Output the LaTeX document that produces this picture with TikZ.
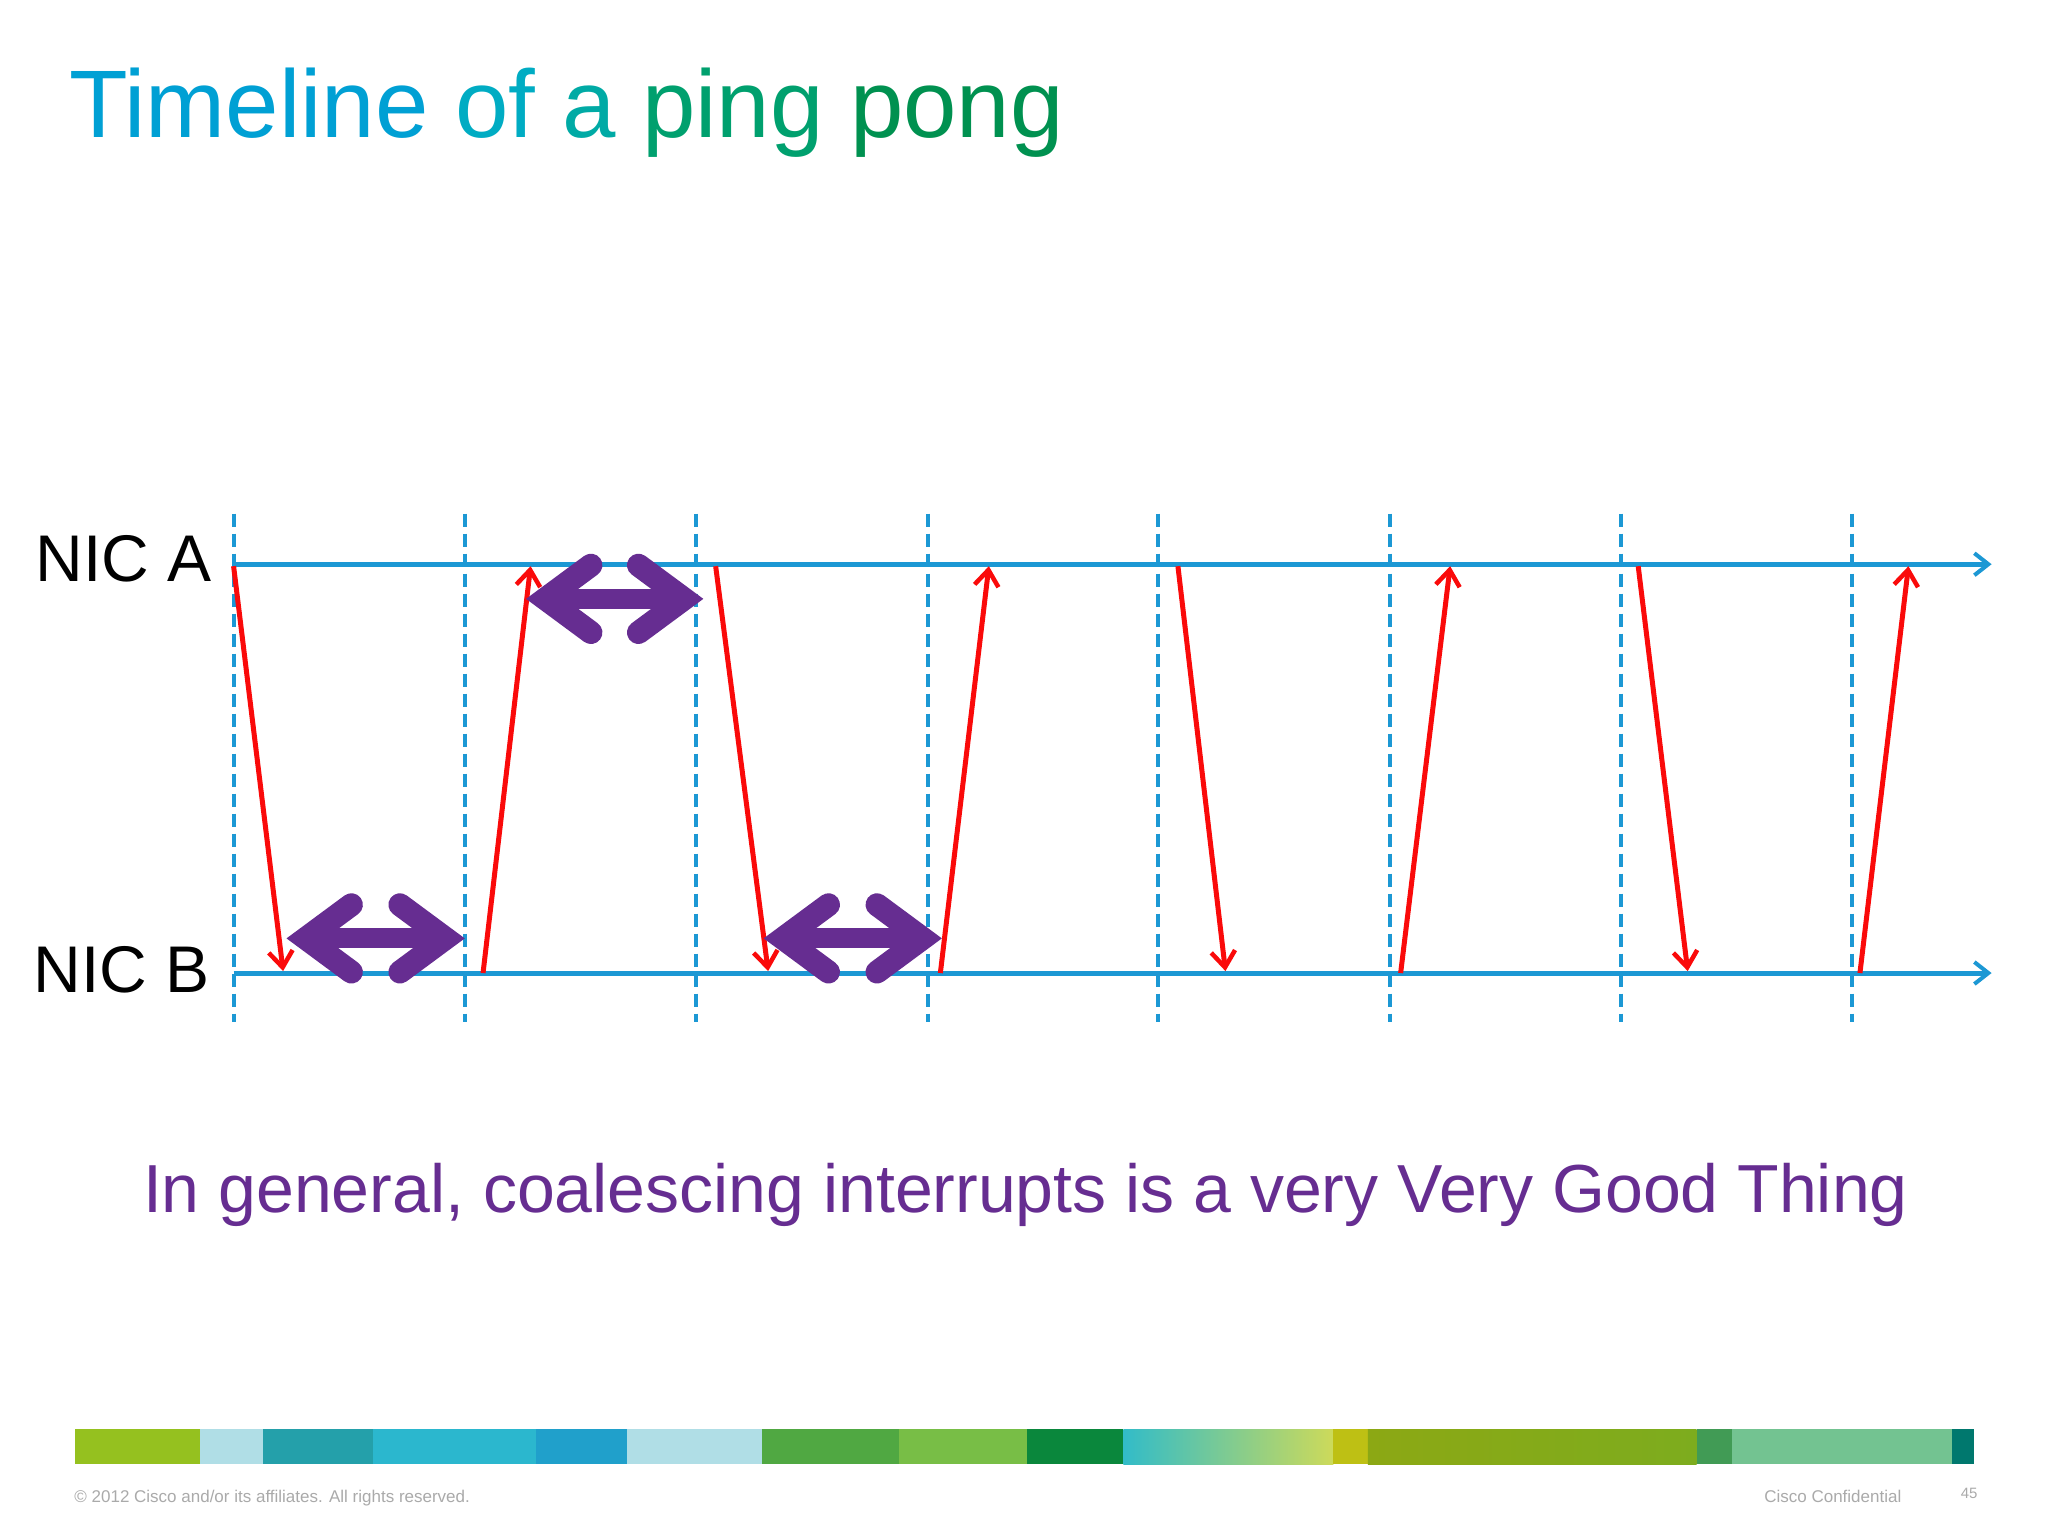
\documentclass[tikz,border=0pt]{standalone}
\usepackage{fontspec}
\setmainfont{Liberation Sans}
\usetikzlibrary{arrows.meta}
\definecolor{cblue}{RGB}{28,152,212}
\definecolor{cpurple}{RGB}{102,45,145}
\definecolor{cred}{RGB}{250,10,10}
\definecolor{cgray}{RGB}{170,170,170}
\tikzset{
 axis/.style={cblue,line width=5pt,-{Straight Barb[length=14pt,width=22pt,line width=4pt]}},
 tick/.style={cblue,line width=4pt,dash pattern=on 13pt off 7pt},
 msg/.style={cred,line width=5pt,-{Straight Barb[length=16pt,width=24pt,line width=4.5pt]}},
 lbl/.style={inner sep=0pt,anchor=base west},
}
\newcommand{\dblarrow}[3]{% x1 x2 y
 \draw[cpurple,line width=20pt] (#1+12,#3) -- (#2-12,#3);
 \draw[cpurple,line width=23pt,line cap=round,line join=miter] (#1+58,#3-34) -- (#1+12,#3) -- (#1+58,#3+34);
 \draw[cpurple,line width=23pt,line cap=round,line join=miter] (#2-58,#3-34) -- (#2-12,#3) -- (#2-58,#3+34);
}
\begin{document}
\begin{tikzpicture}[x=0.99pt,y=-0.99pt]
\useasboundingbox (0,0) rectangle (2069,1552);
\fill[white] (0,0) rectangle (2069,1552);
% title
\node[lbl] (title) at (70,139) {\fontsize{96}{100}\selectfont
 \color[RGB]{0,160,212}Timeline \color[RGB]{0,172,195}of \color[RGB]{0,170,165}a \color[RGB]{0,160,110}ping \color[RGB]{0,145,80}pong};
% labels
\node[lbl,anchor=base east] (nica) at (214,587) {\fontsize{66}{70}\selectfont NIC A};
\node[lbl,anchor=base east] (nicb) at (212,1003) {\fontsize{66}{70}\selectfont NIC B};
% dashed ticks
\foreach \i/\x in {1/236,2/470,3/703,4/937,5/1170,6/1404,7/1638,8/1871}{
 \coordinate (t\i) at (\x,519);
 \coordinate (b\i) at (\x,1032);
 \draw[tick] (t\i) -- (b\i);
}
% axes
\coordinate (as) at (236,570); \coordinate (ae) at (2012,570);
\coordinate (bs) at (236,983); \coordinate (be) at (2012,983);
\draw[axis] (as) -- (ae);
\draw[axis] (bs) -- (be);
% messages
\foreach \i/\xa/\xb in {1/236/286,2/723/776,3/1190/1238,4/1655/1705}{
 \coordinate (da\i) at (\xa,572); \coordinate (db\i) at (\xb,981);
 \draw[msg] (da\i) -- (db\i);
}
\foreach \i/\xb/\xa in {1/488/536,2/950/999,3/1415/1465,4/1879/1928}{
 \coordinate (ub\i) at (\xb,983); \coordinate (ua\i) at (\xa,572);
 \draw[msg] (ub\i) -- (ua\i);
}
% purple double arrows
\dblarrow{297}{462}{948}
\dblarrow{779}{944}{948}
\dblarrow{539}{703}{605}
% bottom text
\node[inner sep=0pt,anchor=base] (msgtext) at (1036,1225) {\fontsize{68}{70}\selectfont\color{cpurple}In general, coalescing interrupts is a very Very Good Thing};
% color bar
\def\yt{1444}\def\yb{1479}
\fill[color={rgb,255:red,149;green,193;blue,31}] (76,\yt) rectangle (202,\yb);
\fill[color={rgb,255:red,176;green,222;blue,230}] (202,\yt) rectangle (266,\yb);
\fill[color={rgb,255:red,36;green,160;blue,170}] (266,\yt) rectangle (377,\yb);
\fill[color={rgb,255:red,43;green,183;blue,206}] (377,\yt) rectangle (541,\yb);
\fill[color={rgb,255:red,32;green,160;blue,203}] (541,\yt) rectangle (633,\yb);
\fill[color={rgb,255:red,176;green,222;blue,230}] (633,\yt) rectangle (770,\yb);
\fill[color={rgb,255:red,80;green,168;blue,66}] (770,\yt) rectangle (908,\yb);
\fill[color={rgb,255:red,120;green,190;blue,70}] (908,\yt) rectangle (1038,\yb);
\fill[color={rgb,255:red,10;green,135;blue,60}] (1038,\yt) rectangle (1135,\yb);
\shade[left color={rgb,255:red,50;green,188;blue,200}, right color={rgb,255:red,205;green,218;blue,90}] (1135,\yt) rectangle (1347,\yb);
\fill[color={rgb,255:red,190;green,192;blue,20}] (1347,\yt) rectangle (1382,\yb);
\shade[left color={rgb,255:red,140;green,168;blue,20}, right color={rgb,255:red,125;green,172;blue,30}] (1382,\yt) rectangle (1714,\yb);
\fill[color={rgb,255:red,65;green,155;blue,85}] (1714,\yt) rectangle (1750,\yb);
\fill[color={rgb,255:red,115;green,195;blue,145}] (1750,\yt) rectangle (1972,\yb);
\fill[color={rgb,255:red,0;green,120;blue,110}] (1972,\yt) rectangle (1994,\yb);
% footer
\node[lbl] (copy) at (75,1518) {\fontsize{17}{18}\selectfont\color{cgray}© 2012 Cisco and/or its affiliates. All rights reserved.};
\node[lbl,anchor=base east] (conf) at (1921,1518) {\fontsize{17}{18}\selectfont\color{cgray}Cisco Confidential};
\node[lbl,anchor=base east] (page) at (1998,1514) {\fontsize{15}{16}\selectfont\color{cgray}45};
\end{tikzpicture}
\end{document}
